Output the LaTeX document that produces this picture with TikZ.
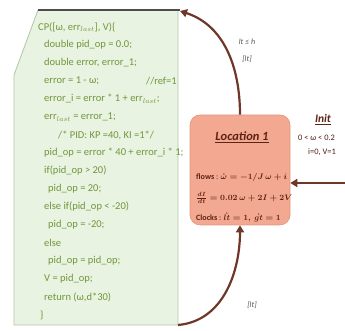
\documentclass[tikz,border=0pt]{standalone}
\usepackage{fontspec}
\setmainfont{Carlito}
\usetikzlibrary{arrows.meta}
\definecolor{codebg}{RGB}{233,243,225}
\definecolor{codeedge}{RGB}{175,198,170}
\definecolor{codetxt}{RGB}{112,150,60}
\definecolor{locfill}{RGB}{242,168,145}
\definecolor{locedge}{RGB}{228,150,125}
\definecolor{arr}{RGB}{110,55,40}
\definecolor{loctxt}{RGB}{95,35,20}
\definecolor{lbltxt}{RGB}{85,85,85}
\begin{document}
\begin{tikzpicture}[x=1pt,y=1pt,
  codeline/.style={anchor=west, inner sep=0pt, text=codetxt, font=\fontsize{10.5}{11}\selectfont},
  locline/.style={anchor=west, inner sep=0pt, text=loctxt, font=\fontsize{8.1}{9}\selectfont\mathversion{bold}},
  locbox/.style={draw=locedge, fill=locfill, rounded corners=10pt, line width=0.6pt},
  flowarrow/.style={draw=arr, line width=2.2pt, -{Triangle[length=7pt,width=8pt]}},
  guard/.style={inner sep=0pt, text=lbltxt, font=\fontsize{8}{9}\selectfont\itshape},
  inittxt/.style={inner sep=0pt, text=loctxt!80!black, font=\fontsize{8.4}{9}\selectfont}]
\useasboundingbox (0,0) rectangle (345,331);
% code box
\coordinate (codeTR) at (180,320);
\coordinate (codeBR) at (178,6);
\fill[codebg] (38,321) -- (178,321) -- (178,6) -- (14,6) -- (14,256) -- cycle;
\draw[codeedge, line width=0.8pt] (178,321) -- (178,6) -- (14,6) -- (14,256) -- (38,321);
\draw[black!70, line width=1.4pt] (38,321) -- (180,321);
% code lines
\node[codeline] (c0)  at (38,304) {CP([ω, err$_{last}$], V)\{};
\node[codeline] (c1)  at (44,286) {double pid\_op = 0.0;};
\node[codeline] (c2)  at (44,268) {double error, error\_1;};
\node[codeline] (c3)  at (44,250) {error = 1 - ω;};
\node[codeline] (c3b) at (146,250) {//ref=1};
\node[codeline] (c4)  at (44,232) {error\_i = error * 1 + err$_{last}$;};
\node[codeline] (c5)  at (44,214) {err$_{last}$ = error\_1;};
\node[codeline] (c6)  at (58,196) {/* PID: KP =40, KI =1*/};
\node[codeline] (c7)  at (44,178) {pid\_op = error * 40 + error\_i * 1;};
\node[codeline] (c8)  at (44,160) {if(pid\_op > 20)};
\node[codeline] (c9)  at (48,142) {pid\_op = 20;};
\node[codeline] (c10) at (44,124) {else if(pid\_op < -20)};
\node[codeline] (c11) at (48,106) {pid\_op = -20;};
\node[codeline] (c12) at (44,88)  {else};
\node[codeline] (c13) at (48,70)  {pid\_op = pid\_op;};
\node[codeline] (c14) at (44,52)  {V = pid\_op;};
\node[codeline] (c15) at (44,34)  {return (ω,d*30)};
\node[codeline] (c16) at (40,16)  {\}};
% location
\node[locbox, minimum width=100pt, minimum height=110pt] (loc) at (240,161) {};
\node[inner sep=0pt, text=loctxt, font=\fontsize{12.5}{13}\selectfont\bfseries\itshape] (ltitle) at (242,194) {\underline{Location 1}};
\node[locline] (lf) at (196,153) {\textbf{flows} : $\dot{\omega} = -1/J\,\omega + i$};
\node[locline] (li) at (196,133) {$\frac{dI}{dt} = 0.02\,\omega + 2I + 2V$};
\node[locline] (lc) at (196,113) {\textbf{Clocks} : $\dot{lt} = 1,\ \dot{gt} = 1$};
% init
\node[inner sep=0pt, text=loctxt, font=\fontsize{11.5}{12}\selectfont\bfseries\itshape] (init) at (323,211) {\underline{Init}};
\node[inittxt, anchor=west] (i1) at (298,193) {0 < ω < 0.2};
\node[inittxt] (i2) at (322,179) {i=0, V=1};
\coordinate (initstart) at (346,148);
\draw[flowarrow] (initstart) -- (initstart -| loc.east);
% transitions
\draw[flowarrow] (loc.north) to[out=90,in=-18] (codeTR);
\draw[flowarrow] (codeBR) to[out=5,in=-90] (loc.south);
\node[guard] (g1) at (247,289) {lt ≤ h};
\node[guard] (g2) at (247,272) {[lt]};
\node[guard] (g3) at (252,26) {[lt]};
\end{tikzpicture}
\end{document}
